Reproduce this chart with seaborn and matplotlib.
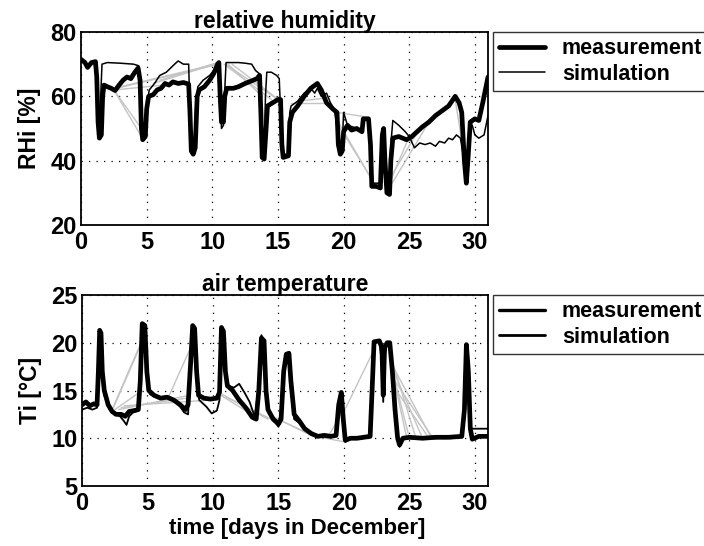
import matplotlib
matplotlib.use("Agg")
import matplotlib.pyplot as plt
import seaborn as sns
import pandas as pd
from matplotlib.lines import Line2D

# ---------------- data ----------------
rh_meas_t = [0.0, 0.3, 0.5, 0.8, 1.1, 1.2, 1.3, 1.4, 1.55, 1.65, 1.75, 2.0, 2.3, 2.6, 2.9, 3.2, 3.5, 3.8, 4.1, 4.35,
             4.5, 4.6, 4.7, 4.9, 5.0, 5.15, 5.5, 5.8, 6.1, 6.4, 6.7, 7.0, 7.4, 7.8, 8.2, 8.3, 8.4, 8.55, 8.7, 8.85,
             9.0, 9.4, 9.8, 10.1, 10.4, 10.5, 10.6, 10.7, 10.85, 10.95, 11.1, 11.6, 12.0, 12.5, 13.0, 13.4, 13.6, 13.7,
             13.8, 13.95, 14.1, 14.2, 14.6, 15.0, 15.2, 15.3, 15.4, 15.8, 15.9, 16.1, 16.5, 17.0, 17.5, 18.0, 18.3,
             18.7, 19.2, 19.5, 19.6, 19.75, 19.9, 20.0, 20.3, 20.6, 21.0, 21.4, 21.5, 21.9, 22.05, 22.15, 22.5, 22.8,
             22.95, 23.05, 23.15, 23.3, 23.5, 23.6, 23.75, 24.2, 24.8, 25.2, 25.6, 26.0, 26.5, 27.0, 27.5, 28.0, 28.5,
             28.8, 29.0, 29.2, 29.35, 29.5, 29.65, 30.0, 30.3, 30.6, 31.0]
rh_meas_v = [71.5, 70.5, 69.0, 70.5, 70.8, 66, 52, 47, 48, 60, 63.5, 63, 62.5, 61.8, 63.5, 65, 66, 65.5, 67.5, 68.8,
             65, 50, 46.5, 47.5, 56, 60, 60.5, 62, 62.5, 64, 63.5, 64.5, 64, 64.3, 63.8, 55, 43, 42, 44, 60,
             62, 63, 65, 67, 70, 70.5, 60, 52, 52, 60, 62.5, 62.5, 63, 64, 64.8, 65.5, 66.5, 55,
             41, 40.5, 50, 57, 58, 59, 59, 45, 41, 41.5, 52, 55, 57, 60, 62.5, 64, 62,
             58, 56, 55, 45, 42, 43, 49, 51, 49.5, 50, 49, 53, 53, 45, 32, 32, 31.5,
             48, 50, 40, 30, 29.5, 40, 47, 47.5, 46.5, 47.5, 49, 50.5, 52, 54, 55.5, 57, 60,
             58, 55, 40, 33, 42, 52, 53, 52.5, 58, 66]

rh_sim_t = [0.0, 0.5, 1.0, 1.2, 1.3, 1.4, 1.5, 1.6, 2.0, 3.0, 4.0, 4.4, 4.55, 4.65, 4.85, 5.0, 5.2, 5.6, 6.0, 6.5,
            7.0, 7.4, 7.8, 8.2, 8.3, 8.4, 8.6, 8.75, 8.9, 9.3, 9.8, 10.2, 10.5, 10.6, 10.7, 10.85, 10.95, 11.05,
            11.5, 12.0, 12.5, 13.0, 13.3, 13.6, 13.7, 13.8, 13.95, 14.05, 14.15, 14.5, 14.9, 15.1, 15.25, 15.35,
            15.8, 15.9, 16.0, 16.5, 17.0, 17.5, 17.8, 18.0, 18.3, 18.7, 19.0, 19.3, 19.5, 19.7, 19.9, 20.0, 20.3,
            20.7, 21.0, 21.4, 21.5, 21.9, 22.05, 22.2, 22.8, 22.95, 23.05, 23.2, 23.35, 23.5, 23.6, 23.75, 24.2,
            24.7, 25.0, 25.4, 25.8, 26.2, 26.6, 27.0, 27.3, 27.7, 28.0, 28.3, 28.6, 28.9, 29.1, 29.3, 29.45, 29.6,
            29.8, 30.0, 30.3, 30.7, 31.0]
rh_sim_v = [71, 70, 70.5, 66, 52, 47.5, 60, 70, 70.5, 70.3, 70, 69.5, 55, 47, 48, 57, 62, 64, 66.5, 67.5,
            69.5, 71, 70, 70, 55, 42.5, 43, 58, 63, 65, 66.5, 68.5, 70, 60, 50, 51, 62, 70.5,
            70.5, 70.5, 70.3, 70, 68, 67, 55, 41, 42, 60, 67.5, 67.5, 66.5, 65.5, 50, 42,
            42, 55, 57, 58.5, 61, 62.5, 61, 62.5, 60, 61, 58, 56, 50, 44, 45, 55, 51,
            50.5, 50, 49, 53, 53, 45, 33, 33, 48, 50, 38, 33, 34, 45, 52.5, 51,
            49, 47.5, 44, 45.5, 45, 45.5, 44.5, 46, 45.5, 47, 46.5, 48, 47, 42, 35, 40, 50,
            51, 48, 47, 48, 54]

# grey gap-connector segments (start t, start v, end t, end v)
rh_gap_t0 = [2.5, 2.5, 2.5, 2.6, 2.7, 3.0, 5.5, 6.0, 10.9, 11.0, 11.2, 11.5, 16.0, 16.5, 19.5, 19.6, 19.6, 23.6, 23.6, 23.7, 28.5]
rh_gap_v0 = [62, 62, 62, 62, 62.5, 63, 64, 65, 70, 70, 70, 70, 58, 58.5, 55, 52, 51, 34, 35, 33, 59]
rh_gap_t1 = [4.3, 4.6, 4.6, 7.5, 10.5, 10.3, 10.2, 10.4, 14.5, 15.0, 13.8, 15.2, 19.0, 18.8, 21.9, 22.3, 22.2, 25.0, 25.5, 26.5, 29.4]
rh_gap_v1 = [68.5, 50, 47.5, 64, 70, 70, 70, 70.5, 59, 59, 60, 58.5, 58, 59.5, 53.5, 33, 34, 47.5, 48, 52, 36]

ti_meas_t = [0.0, 0.3, 0.6, 0.9, 1.15, 1.25, 1.35, 1.45, 1.55, 1.7, 2.0, 2.3, 2.6, 3.0, 3.3, 3.6, 4.0, 4.3, 4.45, 4.6,
             4.8, 4.95, 5.1, 5.5, 6.0, 6.5, 7.0, 7.5, 7.9, 8.1, 8.3, 8.45, 8.6, 8.75, 8.9, 9.3, 9.8, 10.3, 10.5,
             10.65, 10.8, 10.95, 11.1, 11.5, 12.0, 12.5, 13.0, 13.3, 13.5, 13.7, 13.9, 14.05, 14.2, 14.6, 15.0,
             15.2, 15.4, 15.6, 15.8, 15.95, 16.2, 16.6, 17.0, 17.5, 18.0, 18.5, 19.0, 19.4, 19.6, 19.8, 19.95,
             20.1, 20.5, 21.0, 21.5, 22.0, 22.15, 22.3, 22.7, 22.9, 23.0, 23.1, 23.3, 23.5, 23.7, 23.9, 24.1,
             24.25, 24.5, 25.0, 26.0, 27.0, 28.0, 29.0, 29.2, 29.35, 29.5, 29.65, 29.8, 30.3, 31.0]
ti_meas_v = [13.5, 13.8, 13.4, 13.6, 13.5, 17, 21.3, 21, 17, 15, 13.5, 12.8, 12.5, 12.5, 12.3, 12.8, 12.9, 13.0, 16, 22,
             21.8, 17, 15, 14.5, 14.2, 14.3, 14, 13.5, 13, 13.5, 18, 21.8, 21.5, 17, 14.5, 14.2, 14.1, 14.2, 14.8,
             21.6, 21.2, 17, 15.5, 15, 14, 13.2, 12.2, 12, 15, 20.5, 20.2, 15, 13, 12, 11.5,
             12, 17, 18.8, 18.9, 16, 12.5, 11.8, 11, 10.5, 10.2, 10.3, 10.2, 10.3, 13.5, 14.8, 12,
             9.8, 10, 10, 10.1, 10.2, 15, 20.1, 20.2, 19.5, 14.5, 19.5, 20, 20, 17, 13, 10,
             9.3, 10, 10.1, 10, 10.1, 10.1, 10.2, 13, 19.8, 17, 11, 9.9, 10.2, 10.2]

ti_sim_t = [0.0, 0.4, 0.8, 1.15, 1.3, 1.4, 1.5, 1.7, 2.1, 2.5, 2.9, 3.2, 3.4, 3.6, 3.9, 4.3, 4.45, 4.6, 4.8, 4.95,
            5.2, 5.6, 6.0, 6.5, 7.0, 7.5, 7.8, 8.1, 8.3, 8.45, 8.6, 8.75, 8.95, 9.5, 9.9, 10.3, 10.5, 10.65, 10.8,
            10.95, 11.2, 11.6, 12.0, 12.4, 12.8, 13.2, 13.5, 13.7, 13.9, 14.05, 14.3, 14.7, 15.0, 15.2, 15.4, 15.6,
            15.8, 15.95, 16.2, 16.6, 17.0, 17.5, 18.0, 18.5, 19.0, 19.4, 19.6, 19.8, 19.95, 20.1, 20.5, 21.0, 21.5,
            22.0, 22.15, 22.3, 22.7, 22.9, 23.0, 23.1, 23.3, 23.5, 23.7, 23.9, 24.1, 24.25, 24.5, 25.0, 26.0, 27.0,
            28.0, 29.0, 29.2, 29.35, 29.5, 29.65, 29.8, 30.3, 31.0]
ti_sim_v = [13, 13.2, 13.0, 13.2, 21, 21.3, 17, 14.5, 13, 12.6, 12.3, 11.8, 11.4, 12.3, 12.7, 12.9, 16, 21.8, 21.6, 17,
            14.6, 14.3, 14.3, 14.2, 14, 13.3, 12.7, 12.5, 18, 21.5, 21.2, 16, 14, 13.3, 12.6, 12.9, 14, 21.3, 21,
            17, 15.5, 15.3, 15.7, 14.8, 13.8, 12.2, 15.5, 20.8, 20, 15, 12.8, 11.8, 11.2, 12, 16.5, 18.5,
            18.6, 15, 12, 11.6, 10.9, 10.4, 10.1, 10.2, 10.3, 10.2, 13.8, 14.5, 11.5, 9.6, 9.9, 10, 10,
            10.1, 15, 20, 20.1, 18, 13.8, 18.5, 20, 20, 16.5, 12.5, 9.8, 9.1, 9.9, 10, 10, 10,
            10.1, 10.1, 13.5, 19.5, 16.5, 11, 11, 11, 11]

ti_gap_t0 = [2.3, 2.4, 2.5, 2.8, 3.0, 3.2, 6.5, 10.6, 10.7, 11.0, 14.2, 14.5, 18.8, 17.5, 19.9,
             23.7, 23.75, 23.8, 23.85, 23.9, 24.0, 23.8, 29.0]
ti_gap_v0 = [13, 13.2, 13, 13, 13.2, 13.4, 14, 14.5, 14.6, 14.3, 12.5, 12.3, 10.2, 10.3, 12.5,
             18, 17.5, 17, 16, 16, 15, 16.5, 10.2]
ti_gap_t1 = [4.5, 4.4, 4.6, 8.2, 8.0, 9.8, 8.3, 13.3, 14.2, 15.2, 17.3, 17.5, 20.0, 20.1, 22.2,
             25.5, 26.7, 26.0, 24.8, 26.8, 26.5, 25.0, 29.3]
ti_gap_v1 = [20, 19.5, 15, 14.5, 14.2, 14.0, 19.5, 12.2, 12, 11.5, 10.5, 10.3, 13, 9.6, 19,
             10, 10, 10, 10, 10, 10, 10, 15]

legend_labels = ["measurement", "simulation"]

# ---------------- style ----------------
sns.set_style("white")
plt.rcParams["font.family"] = ["Liberation Sans", "DejaVu Sans"]
plt.rcParams["font.weight"] = "bold"
plt.rcParams["axes.labelweight"] = "bold"
plt.rcParams["axes.titleweight"] = "bold"
for key in ["text.color", "axes.labelcolor", "xtick.color", "ytick.color", "axes.edgecolor"]:
    plt.rcParams[key] = "black"

fig = plt.figure(figsize=(7.04, 5.46), dpi=100)
ax1 = fig.add_axes([81 / 704, 1 - 225 / 546, 407 / 704, 193 / 546])
ax2 = fig.add_axes([82 / 704, 1 - 486 / 546, 406 / 704, 191 / 546])

grey = "#c4c4c4"


def draw(ax, gt0, gv0, gt1, gv1, mt, mv, st, sv, lw_meas, lw_sim):
    for a, b, c, d in zip(gt0, gv0, gt1, gv1):
        ax.plot([a, c], [b, d], color=grey, lw=1.0, zorder=1)
    sns.lineplot(x=st, y=sv, ax=ax, sort=False, estimator=None, color="black", lw=lw_sim, zorder=3)
    sns.lineplot(x=mt, y=mv, ax=ax, sort=False, estimator=None, color="black", lw=lw_meas, zorder=4)


draw(ax1, rh_gap_t0, rh_gap_v0, rh_gap_t1, rh_gap_v1, rh_meas_t, rh_meas_v, rh_sim_t, rh_sim_v, 3.4, 1.1)
draw(ax2, ti_gap_t0, ti_gap_v0, ti_gap_t1, ti_gap_v1, ti_meas_t, ti_meas_v, ti_sim_t, ti_sim_v, 3.4, 1.3)

for ax, ylim, yticks, ylabel, title in [
    (ax1, (20, 80), [20, 40, 60, 80], "RHi [%]", "relative humidity"),
    (ax2, (5, 25), [5, 10, 15, 20, 25], "Ti [°C]", "air temperature"),
]:
    ax.set_xlim(0, 31)
    ax.set_ylim(*ylim)
    ax.set_xticks([0, 5, 10, 15, 20, 25, 30])
    ax.set_yticks(yticks)
    ax.grid(True, color="black", linestyle=(0, (1, 5)), lw=0.9)
    ax.tick_params(direction="in", length=4, width=1, labelsize=17, colors="black")
    ax.tick_params(axis="x", pad=4.5)
    ax.tick_params(axis="y", pad=3)
    for s in ax.spines.values():
        s.set_linewidth(1.3)
        s.set_color("black")
    ax.set_ylabel(ylabel, fontsize=16.5, labelpad=7, color="black")
    ax.set_xlabel("")
    ax.set_title(title, fontsize=16.5, pad=3, color="black")

ax2.set_xlabel("time [days in December]", fontsize=16, color="black")
ax2.xaxis.set_label_coords(0.53, -0.17)

h1 = [Line2D([], [], color="black", lw=3.4), Line2D([], [], color="black", lw=1.1)]
h2 = [Line2D([], [], color="black", lw=2.4), Line2D([], [], color="black", lw=2.0)]
for ax, hs in [(ax1, h1), (ax2, h2)]:
    leg = ax.legend(hs, legend_labels, loc="upper left", bbox_to_anchor=(1.012, 1.0), borderaxespad=0,
                    frameon=True, fancybox=False, fontsize=15.5, handlelength=2.1, handletextpad=0.8,
                    labelspacing=0.2, borderpad=0.3, labelcolor="black")
    leg.get_frame().set_edgecolor("black")
    leg.get_frame().set_linewidth(1.0)

fig.savefig("out.png", dpi=100)
